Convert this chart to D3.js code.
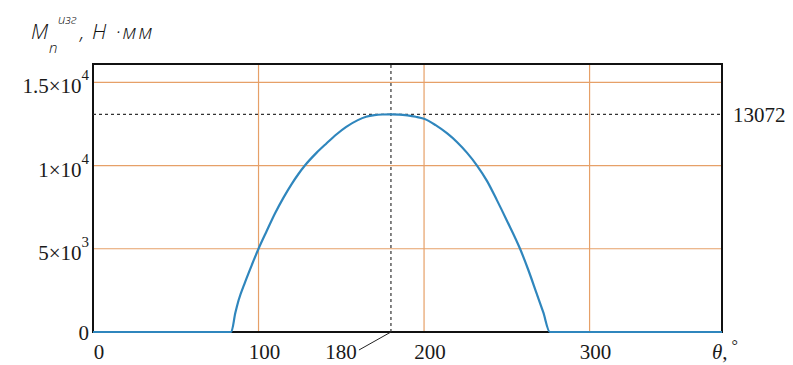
<!DOCTYPE html>
<html>
<head>
<meta charset="utf-8">
<script src="https://cdn.jsdelivr.net/npm/d3@7"></script>
<style>
    body { margin: 0; background: #fff; }
    svg { display: block; }
    .tick-label { font-family: "Liberation Serif", "Times New Roman", serif; font-size: 21px; fill: #1a1a1a; }
    .title { font-family: "Open Sans", "DejaVu Sans", sans-serif; font-style: italic; font-weight: 300; fill: #111; }
</style>
</head>
<body>
<svg id="chart" width="793" height="365"></svg>
<script>
// angle of crank, deg
var theta = [0, 83.5, 86, 88, 92, 96, 100, 105, 110, 115, 120, 124, 128, 135, 141, 147, 153, 160, 165, 170, 175,
    180, 185, 190, 195, 200, 207, 214, 220, 226, 232, 238, 244, 250, 258, 263, 268, 272, 276, 380]
// bending moment, N*mm
var moment = [0, 0, 1150, 1920, 3030, 4040, 5000, 6080, 7135, 8060, 8885, 9477, 10000, 10760, 11326, 11866, 12322, 12728, 12928, 13030, 13065,
    13072, 13060, 13010, 12930, 12810, 12425, 11926, 11400, 10760, 10000, 9080, 7922, 6702, 5000, 3725, 2320, 1190, 0, 0]

var xTicks = [0, 100, 200, 300]
var yTicks = [0, 5000, 10000, 15000]
var yTickLabels = [["0", ""], ["5×10", "3"], ["1×10", "4"], ["1.5×10", "4"]]
var peakTheta = 180
var peakMoment = 13072

var svg = d3.select("#chart")
var margin = {top: 64, right: 71, bottom: 33, left: 93}
var width = 793 - margin.left - margin.right
var height = 365 - margin.top - margin.bottom

var x = d3.scaleLinear().domain([0, 380]).range([margin.left, margin.left + width])
var y = d3.scaleLinear().domain([0, 16100]).range([margin.top + height, margin.top])

var gridColor = "#e6a068"

// grid lines X = const
svg.append("g")
    .selectAll("line")
    .data(xTicks.slice(1))
    .join("line")
    .attr("x1", d => x(d)).attr("x2", d => x(d))
    .attr("y1", y(0)).attr("y2", margin.top)
    .attr("stroke", gridColor)
    .attr("stroke-width", 1.2)

// grid lines Y = const
svg.append("g")
    .selectAll("line")
    .data(yTicks.slice(1))
    .join("line")
    .attr("x1", x(0)).attr("x2", x(380))
    .attr("y1", d => y(d)).attr("y2", d => y(d))
    .attr("stroke", gridColor)
    .attr("stroke-width", 1.2)

// frame
svg.append("rect")
    .attr("x", x(0)).attr("y", margin.top)
    .attr("width", width).attr("height", height)
    .attr("fill", "none")
    .attr("stroke", "#111")
    .attr("stroke-width", 2)

// marker lines for the maximum
svg.append("line")
    .attr("x1", x(0)).attr("x2", x(380))
    .attr("y1", y(peakMoment)).attr("y2", y(peakMoment))
    .attr("stroke", "#333").attr("stroke-width", 1.2)
    .attr("stroke-dasharray", "3,3")
svg.append("line")
    .attr("x1", x(peakTheta)).attr("x2", x(peakTheta))
    .attr("y1", y(0)).attr("y2", margin.top)
    .attr("stroke", "#333").attr("stroke-width", 1.2)
    .attr("stroke-dasharray", "3,3")

// curve
var line = d3.line()
    .x((d, i) => x(theta[i]))
    .y(d => y(d))
    .curve(d3.curveMonotoneX)
svg.append("path")
    .datum(moment)
    .attr("fill", "none")
    .attr("stroke", "#2f86bd")
    .attr("stroke-width", 2.2)
    .attr("stroke-linejoin", "round")
    .attr("d", line)

// Y tick labels
var yl = svg.append("g")
    .selectAll("text")
    .data(yTicks)
    .join("text")
    .attr("class", "tick-label")
    .attr("text-anchor", "end")
    .attr("x", 89)
    .attr("y", (d, i) => y(d) + (i === 0 ? 8 : 11))
yl.append("tspan").text((d, i) => yTickLabels[i][0])
yl.append("tspan")
    .attr("dy", -13)
    .style("font-size", "15px")
    .text((d, i) => yTickLabels[i][1])

// X tick labels
svg.append("g")
    .selectAll("text")
    .data(xTicks)
    .join("text")
    .attr("class", "tick-label")
    .attr("text-anchor", "middle")
    .attr("x", d => x(d) + 6)
    .attr("y", 359)
    .text(d => d)

// annotation of the peak angle
svg.append("text")
    .attr("class", "tick-label")
    .attr("text-anchor", "middle")
    .attr("x", x(peakTheta) - 50)
    .attr("y", 359)
    .text(peakTheta)
svg.append("line")
    .attr("x1", x(peakTheta) - 32).attr("y1", 350)
    .attr("x2", x(peakTheta)).attr("y2", y(0))
    .attr("stroke", "#222").attr("stroke-width", 1)

// peak value on the right
svg.append("text")
    .attr("class", "tick-label")
    .attr("x", 733)
    .attr("y", y(peakMoment) + 8)
    .text(peakMoment)

// axis titles
var xt = svg.append("text")
    .attr("class", "tick-label")
    .attr("x", 712)
    .attr("y", 359)
xt.append("tspan").style("font-style", "italic").text("θ")
xt.append("tspan").text(",")
xt.append("tspan").attr("dy", -8).style("font-size", "16px").text(" °")

// y title: M with subscript and superscript, placed piece by piece
var title = svg.append("g").attr("class", "title")
title.append("text").attr("x", 31).attr("y", 39).style("font-size", "21px").text("M")
title.append("text").attr("x", 49).attr("y", 53).style("font-size", "15px").text("п")
title.append("text").attr("x", 58).attr("y", 24).style("font-size", "13px").text("изг")
title.append("text").attr("x", 80).attr("y", 39).style("font-size", "21px").text(",")
title.append("text").attr("x", 92).attr("y", 39).style("font-size", "21px")
    .style("letter-spacing", "2px").text("Н ·мм")
</script>
</body>
</html>
